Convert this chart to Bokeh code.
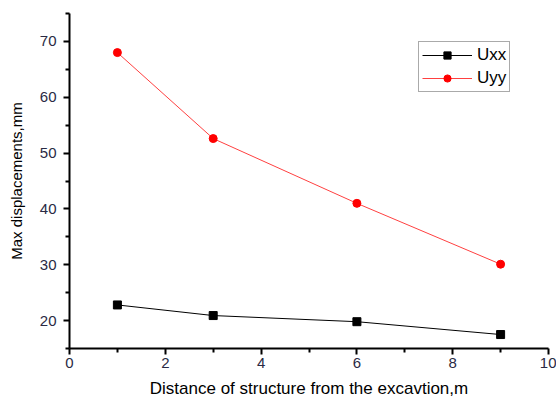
from bokeh.plotting import figure
from bokeh.models import Range1d, Legend, LegendItem, FixedTicker
from bokeh.embed import file_html
from bokeh.resources import INLINE

distance = [1, 3, 6, 9]
uxx = [22.8, 20.9, 19.8, 17.5]
uyy = [68.0, 52.6, 41.0, 30.1]

p = figure(width=556, height=401, output_backend="svg", toolbar_location=None,
           x_range=Range1d(0, 10), y_range=Range1d(15, 75),
           min_border_left=69, min_border_right=8, min_border_top=13, min_border_bottom=53)
p.outline_line_color = None
p.grid.visible = False
p.background_fill_color = "white"

l1 = p.line(distance, uxx, line_color="black", line_width=1)
m1 = p.scatter(distance, uxx, marker="square", size=8, fill_color="black", line_color="black")
l2 = p.line(distance, uyy, line_color="#ff4040", line_width=1)
m2 = p.scatter(distance, uyy, marker="circle", size=8, fill_color="red", line_color="red")

legend = Legend(items=[LegendItem(label="Uxx", renderers=[l1, m1]),
                       LegendItem(label="Uyy", renderers=[l2, m2])],
                location=(349, 256))
legend.border_line_color = "#555555"
legend.border_line_width = 1
legend.label_text_font = "Liberation Sans"
legend.label_text_font_size = "17px"
legend.label_text_color = "black"
legend.glyph_width = 50
legend.glyph_height = 18
legend.label_height = 18
legend.spacing = 3
legend.padding = 3
legend.margin = 0
legend.label_standoff = 5
p.add_layout(legend, "center")

for ax in (p.xaxis[0], p.yaxis[0]):
    ax.axis_line_width = 2
    ax.axis_line_color = "black"
    ax.major_tick_line_width = 2
    ax.minor_tick_line_width = 2
    ax.major_tick_out = 6
    ax.major_tick_in = 0
    ax.minor_tick_out = 4
    ax.minor_tick_in = 0
    ax.major_label_text_font = "Liberation Sans"
    ax.major_label_text_font_size = "15px"
    ax.major_label_text_color = "#2a2a44"
    ax.axis_label_text_font = "Liberation Sans"
    ax.axis_label_text_font_style = "normal"
    ax.axis_label_text_color = "black"

p.xaxis.ticker = FixedTicker(ticks=[0, 2, 4, 6, 8, 10], minor_ticks=[1, 3, 5, 7, 9])
p.yaxis.ticker = FixedTicker(ticks=[20, 30, 40, 50, 60, 70], minor_ticks=[15, 25, 35, 45, 55, 65, 75])
p.xaxis.axis_label = "Distance of structure from the excavtion,m"
p.yaxis.axis_label = "Max displacements,mm"
p.xaxis.axis_label_text_font_size = "17px"
p.yaxis.axis_label_text_font_size = "15px"
p.xaxis.axis_label_standoff = 8
p.yaxis.axis_label_standoff = 12
p.xaxis.major_label_standoff = 3
p.yaxis.major_label_standoff = 7

open("out.html", "w").write(file_html(p, INLINE))
